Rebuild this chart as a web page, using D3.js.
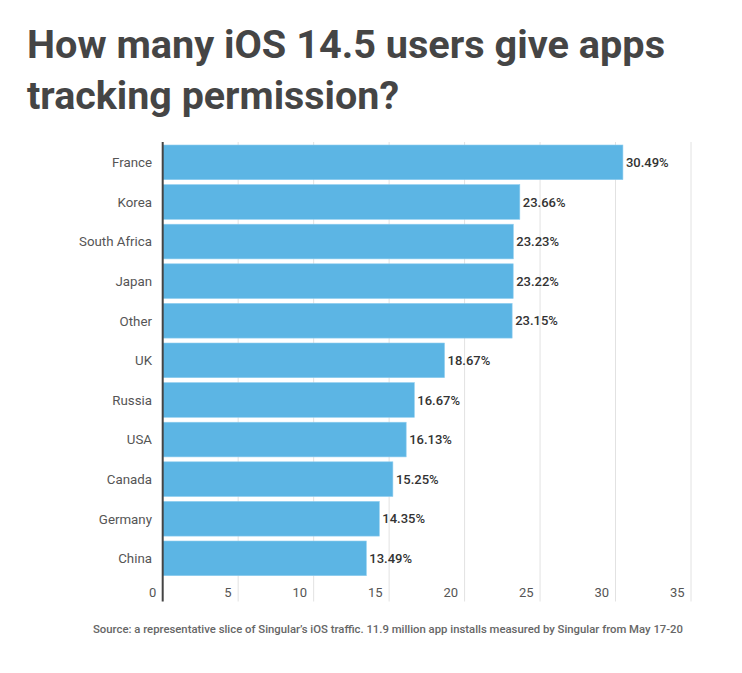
<!DOCTYPE html>
<html>
<head>
<meta charset="utf-8">
<script src="https://cdn.jsdelivr.net/npm/d3@7"></script>
<style>
  html, body { margin: 0; padding: 0; background: #fff; }
  svg { display: block; font-family: Roboto, "Noto Sans", sans-serif; }
</style>
</head>
<body>
<svg id="chart" width="742" height="673"></svg>
<script>
const titleLines = ["How many iOS 14.5 users give apps", "tracking permission?"];
const countries = ["France", "Korea", "South Africa", "Japan", "Other", "UK", "Russia", "USA", "Canada", "Germany", "China"];
const values = [30.49, 23.66, 23.23, 23.22, 23.15, 18.67, 16.67, 16.13, 15.25, 14.35, 13.49];
const tickValues = [0, 5, 10, 15, 20, 25, 30, 35];
const sourceText = "Source: a representative slice of Singular\u2019s iOS traffic. 11.9 million app installs measured by Singular from May 17-20";

const data = countries.map((c, i) => ({ country: c, value: values[i] }));

const svg = d3.select("#chart");

// Title
svg.append("g").selectAll("text").data(titleLines).join("text")
  .attr("x", 27)
  .attr("y", (d, i) => 58 + i * 50.5)
  .attr("fill", "#454545")
  .attr("font-size", 38)
  .attr("font-weight", 700)
  .attr("textLength", (d, i) => i === 0 ? 638 : 372)
  .attr("lengthAdjust", "spacingAndGlyphs")
  .text(d => d);

const x = d3.scaleLinear().domain([0, 35]).range([162.7, 691]);
const y = d3.scaleBand().domain(countries).range([145, 575.7]).paddingInner(0.124).paddingOuter(0);

const plotTop = 142, plotBottom = 601.5;

// Gridlines
svg.append("g").selectAll("line").data(tickValues.filter(t => t > 0)).join("line")
  .attr("x1", d => x(d)).attr("x2", d => x(d))
  .attr("y1", plotTop).attr("y2", plotBottom)
  .attr("stroke", "#e2e2e2").attr("stroke-width", 1);

// Bars
svg.append("g").selectAll("rect").data(data).join("rect")
  .attr("x", x(0))
  .attr("y", d => y(d.country))
  .attr("width", d => x(d.value) - x(0))
  .attr("height", y.bandwidth())
  .attr("fill", "#5cb5e4")
  .attr("stroke", "#8fcdef")
  .attr("stroke-width", 0.6);

// Value labels
svg.append("g").selectAll("text").data(data).join("text")
  .attr("x", d => x(d.value) + 3)
  .attr("y", d => y(d.country) + y.bandwidth() / 2)
  .attr("dy", "0.36em")
  .attr("fill", "#333")
  .attr("font-size", 13)
  .attr("font-weight", 500)
  .text(d => d.value.toFixed(2) + "%");

// Category labels
svg.append("g").selectAll("text").data(data).join("text")
  .attr("x", 152)
  .attr("y", d => y(d.country) + y.bandwidth() / 2)
  .attr("dy", "0.36em")
  .attr("text-anchor", "end")
  .attr("fill", "#555")
  .attr("font-size", 13.3)
  .text(d => d.country);

// X tick labels
svg.append("g").selectAll("text").data(tickValues).join("text")
  .attr("x", d => x(d) - 6.5)
  .attr("y", 597)
  .attr("text-anchor", "end")
  .attr("fill", "#555")
  .attr("font-size", 13)
  .text(d => d);

// Axis line
svg.append("line")
  .attr("x1", x(0)).attr("x2", x(0))
  .attr("y1", plotTop).attr("y2", plotBottom)
  .attr("stroke", "#444").attr("stroke-width", 2);

// Source
svg.append("text")
  .attr("x", 93)
  .attr("y", 633)
  .attr("fill", "#666")
  .attr("font-size", 10.5)
  .attr("font-weight", 500)
  .attr("textLength", 590)
  .attr("lengthAdjust", "spacingAndGlyphs")
  .text(sourceText);
</script>
</body>
</html>
